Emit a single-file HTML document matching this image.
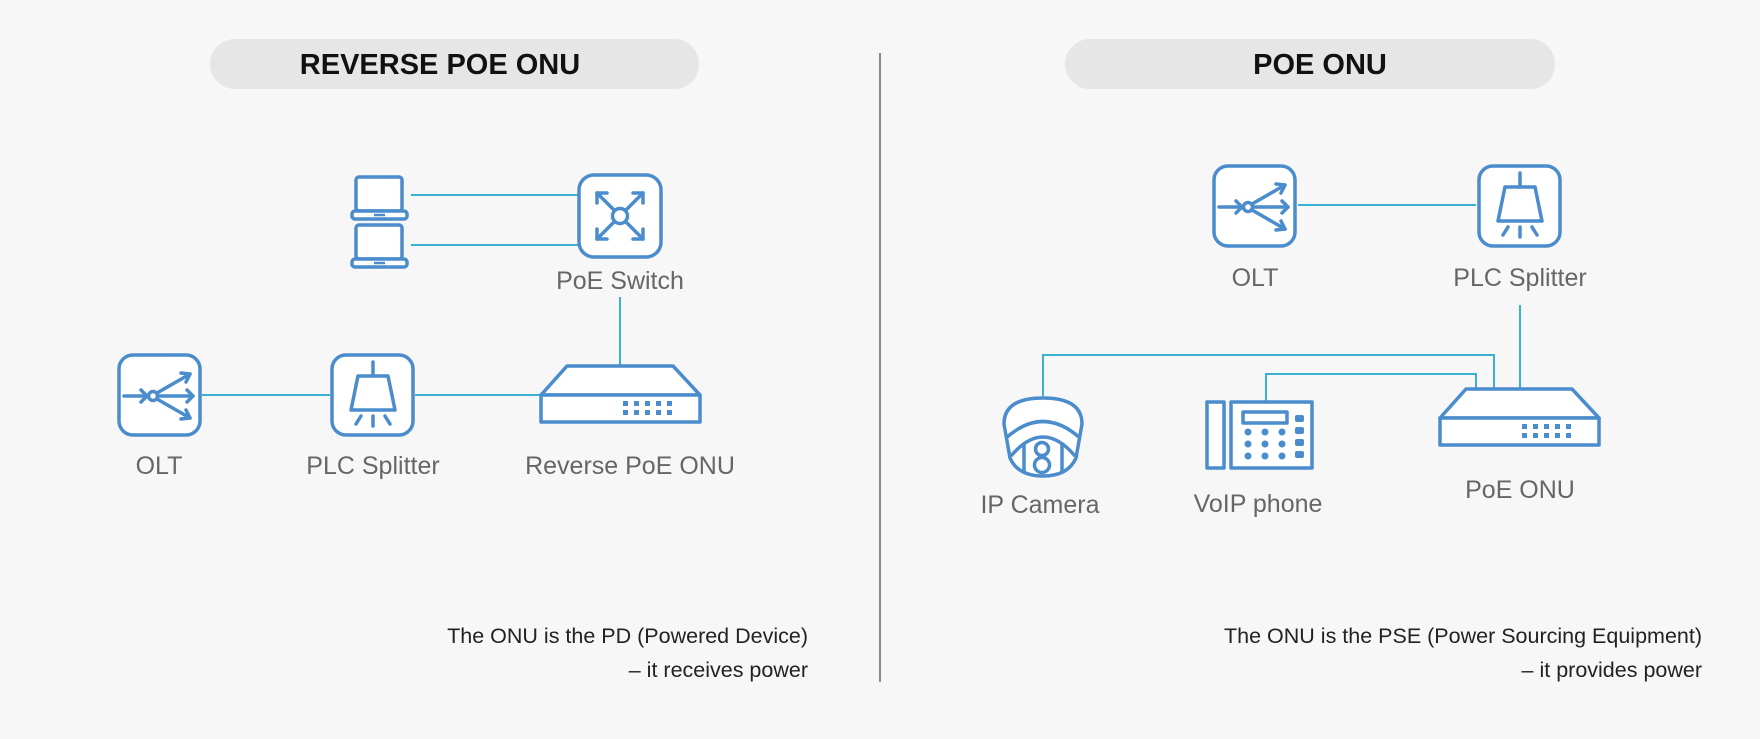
<!DOCTYPE html>
<html><head><meta charset="utf-8"><style>
html,body{margin:0;padding:0;background:#f7f7f7;}
svg{display:block;}
text{font-family:"Liberation Sans",sans-serif;}
</style></head><body>
<svg width="1760" height="739" viewBox="0 0 1760 739" xmlns="http://www.w3.org/2000/svg">
<defs>
<g id="olt" fill="none" stroke="#4a8ccc" stroke-width="3.5" stroke-linecap="round" stroke-linejoin="round">
  <rect x="2" y="2" width="81" height="80" rx="14" fill="#fff"/>
  <line x1="7" y1="43" x2="30" y2="43"/><polyline points="24,37 30,43 24,49"/>
  <circle cx="36" cy="43" r="4.5"/>
  <line x1="40" y1="40" x2="73" y2="21"/><polyline points="64,20 73,21 69,29"/>
  <line x1="41" y1="43" x2="76" y2="43"/><polyline points="70,37 76,43 70,49"/>
  <line x1="40" y1="46" x2="73" y2="65"/><polyline points="69,57 73,65 64,66"/>
</g>
<g id="spl" fill="none" stroke="#4a8ccc" stroke-width="3.5" stroke-linecap="round" stroke-linejoin="round">
  <rect x="2" y="2" width="81" height="80" rx="14" fill="#fff"/>
  <line x1="43" y1="9" x2="43" y2="23"/>
  <polygon points="28,23 58,23 65,57 21,57"/>
  <line x1="43" y1="63" x2="43" y2="73"/><line x1="31" y1="63" x2="26" y2="71"/><line x1="55" y1="63" x2="60" y2="71"/>
</g>
<g id="onu" fill="none" stroke="#4a8ccc" stroke-width="3.5" stroke-linejoin="round">
  <polygon points="26,0 132,0 159,29 0,29" fill="#fff"/>
  <rect x="0" y="29" width="159" height="27" fill="#fff"/>
  <g fill="#4a8ccc" stroke="none">
    <rect x="82" y="35" width="5" height="5"/><rect x="93" y="35" width="5" height="5"/><rect x="104" y="35" width="5" height="5"/><rect x="115" y="35" width="5" height="5"/><rect x="126" y="35" width="5" height="5"/>
    <rect x="82" y="44" width="5" height="5"/><rect x="93" y="44" width="5" height="5"/><rect x="104" y="44" width="5" height="5"/><rect x="115" y="44" width="5" height="5"/><rect x="126" y="44" width="5" height="5"/>
  </g>
</g>
<g id="lap" fill="none" stroke="#4a8ccc" stroke-width="3.5" stroke-linejoin="round">
  <rect x="4" y="2" width="46" height="34" rx="3" fill="#fff"/>
  <rect x="0" y="36" width="55" height="8" rx="3" fill="#fff"/>
  <line x1="22" y1="40" x2="33" y2="40" stroke-width="2.5"/>
</g>
</defs>

<rect x="210" y="39" width="489" height="50" rx="25" fill="#e6e6e6"/>
<text x="440" y="74" font-size="29" font-weight="bold" text-anchor="middle" fill="#111">REVERSE POE ONU</text>
<rect x="1065" y="39" width="490" height="50" rx="25" fill="#e6e6e6"/>
<text x="1320" y="74" font-size="29" font-weight="bold" text-anchor="middle" fill="#111">POE ONU</text>
<line x1="880" y1="53" x2="880" y2="682" stroke="#666" stroke-width="1.5"/>

<g stroke="#3ab0d2" stroke-width="2" fill="none">
<line x1="411" y1="195" x2="578" y2="195"/>
<line x1="411" y1="245" x2="578" y2="245"/>
<line x1="620" y1="297" x2="620" y2="366"/>
<line x1="202" y1="395" x2="330" y2="395"/>
<line x1="415" y1="395" x2="541" y2="395"/>
</g>
<use href="#lap" x="352" y="175"/>
<use href="#lap" x="352" y="223"/>
<g fill="none" stroke="#4a8ccc" stroke-width="3.5" stroke-linecap="round" stroke-linejoin="round">
  <rect x="579" y="175" width="82" height="82" rx="15" fill="#fff"/>
  <circle cx="620" cy="216" r="7.5"/>
  <line x1="614" y1="210" x2="597" y2="193"/><line x1="626" y1="210" x2="643" y2="193"/>
  <line x1="614" y1="222" x2="597" y2="239"/><line x1="626" y1="222" x2="643" y2="239"/>
  <polyline points="607,193 597,193 597,203"/><polyline points="633,193 643,193 643,203"/>
  <polyline points="597,229 597,239 607,239"/><polyline points="643,229 643,239 633,239"/>
</g>
<use href="#onu" x="541" y="366"/>
<use href="#olt" x="117" y="353"/>
<use href="#spl" x="330" y="353"/>

<g font-size="25" fill="#666" text-anchor="middle">
<text x="620" y="289">PoE Switch</text>
<text x="159" y="474">OLT</text>
<text x="373" y="474">PLC Splitter</text>
<text x="630" y="474">Reverse PoE ONU</text>
<text x="1255" y="286">OLT</text>
<text x="1520" y="286">PLC Splitter</text>
<text x="1040" y="513">IP Camera</text>
<text x="1258" y="512">VoIP phone</text>
<text x="1520" y="498">PoE ONU</text>
</g>
<g font-size="21.5" fill="#222" text-anchor="end">
<text x="808" y="643">The ONU is the PD (Powered Device)</text>
<text x="808" y="677">– it receives power</text>
<text x="1702" y="643">The ONU is the PSE (Power Sourcing Equipment)</text>
<text x="1702" y="677">– it provides power</text>
</g>

<g stroke="#3ab0d2" stroke-width="2" fill="none">
<line x1="1298" y1="205" x2="1476" y2="205"/>
<line x1="1520" y1="305" x2="1520" y2="389"/>
<polyline points="1043,396 1043,355 1494,355 1494,389"/>
<polyline points="1266,401 1266,374 1476,374 1476,389"/>
</g>
<use href="#olt" x="1212" y="164"/>
<use href="#spl" x="1477" y="164"/>
<use href="#onu" x="1440" y="389"/>
<!-- camera -->
<g fill="none" stroke="#4a8ccc" stroke-width="3.5" stroke-linejoin="round">
  <path d="M1004,424 Q1004,398 1043,398 Q1082,398 1082,424 L1076,458 Q1068,476 1043,476 Q1018,476 1010,458 Z" fill="#fff"/>
  <path d="M1006,438 Q1043,405 1080,438"/>
  <path d="M1011,456 Q1043,418 1075,456"/>
  <line x1="1024" y1="444" x2="1024" y2="472"/><line x1="1062" y1="444" x2="1062" y2="472"/>
  <circle cx="1042" cy="449" r="6.5"/><circle cx="1042" cy="465" r="7.5"/>
</g>
<!-- phone -->
<g fill="none" stroke="#4a8ccc" stroke-width="3.5" stroke-linejoin="round">
  <rect x="1207" y="402" width="17" height="66" fill="#fff"/>
  <rect x="1231" y="402" width="81" height="66" fill="#fff"/>
  <rect x="1243" y="412" width="44" height="11"/>
  <g fill="#4a8ccc" stroke="none">
    <circle cx="1248" cy="432" r="3.5"/><circle cx="1265" cy="432" r="3.5"/><circle cx="1282" cy="432" r="3.5"/>
    <circle cx="1248" cy="444" r="3.5"/><circle cx="1265" cy="444" r="3.5"/><circle cx="1282" cy="444" r="3.5"/>
    <circle cx="1248" cy="456" r="3.5"/><circle cx="1265" cy="456" r="3.5"/><circle cx="1282" cy="456" r="3.5"/>
    <rect x="1295" y="415" width="9" height="7" rx="2"/><rect x="1295" y="427" width="9" height="7" rx="2"/>
    <rect x="1295" y="439" width="9" height="7" rx="2"/><rect x="1295" y="451" width="9" height="7" rx="2"/>
  </g>
</g>
</svg>
</body></html>
